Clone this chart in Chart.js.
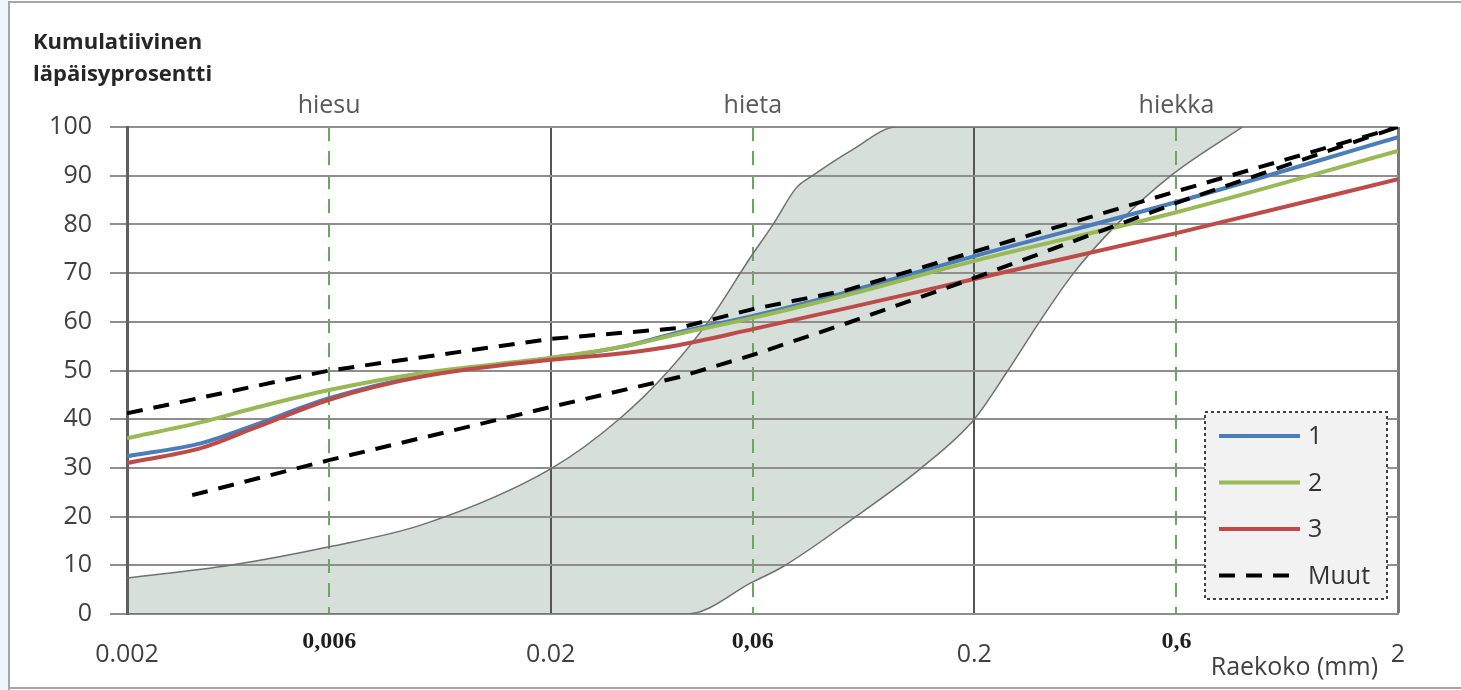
<!DOCTYPE html>
<html lang="fi">
<head>
<meta charset="utf-8">
<title>Kumulatiivinen läpäisyprosentti</title>
<script src="https://cdn.jsdelivr.net/npm/chart.js@4.4.0/dist/chart.umd.min.js"></script>
<style>
  html, body { margin: 0; padding: 0; background: #fff; }
  #wrap { position: relative; width: 1461px; height: 690px; }
</style>
</head>
<body>
<div id="wrap"><canvas id="chart" width="1461" height="690"></canvas></div>
<script>
"use strict";

// Raekoot (mm) ja näytteiden läpäisyprosentit
const sizes = [0.002, 0.003, 0.004, 0.006, 0.01, 0.02, 0.03, 0.04, 0.06, 0.1, 0.2, 0.6, 2];
const sample1 = [32.4, 35.1, 38.8, 44.3, 49.0, 52.5, 55.0, 57.8, 61.2, 66.1, 73.5, 84.6, 97.9];
const sample2 = [36.1, 39.4, 42.3, 46.0, 49.5, 52.6, 55.0, 57.5, 60.8, 65.5, 72.5, 82.5, 95.1];
const sample3 = [31.0, 34.1, 38.2, 44.0, 48.8, 52.2, 53.6, 55.2, 58.5, 62.8, 68.8, 78.2, 89.3];

// Muut (kaksi katkoviivaa)
const muutUpperSizes = [0.002, 0.006, 0.02, 0.04, 0.06, 0.1, 0.2, 0.6, 2];
const muutUpper = [41.2, 50.0, 56.5, 58.7, 62.6, 66.5, 74.4, 86.8, 100];
const muutLowerSizes = [0.00285, 0.006, 0.02, 0.04, 0.06, 0.1, 0.2, 0.6, 2];
const muutLower = [24.4, 31.6, 42.5, 48.6, 53.2, 59.7, 69.0, 84.4, 100];

// Ohjealue (harmaa kaista)
const bandLeftSizes = [0.002, 0.0035, 0.006, 0.01, 0.02, 0.029, 0.038, 0.048, 0.059, 0.067, 0.076, 0.083, 0.103, 0.131];
const bandLeft = [7.4, 10, 13.8, 18.4, 29.8, 40, 50, 61, 73, 80, 87.5, 90, 95.3, 100];
const bandRightSizes = [0.042, 0.06, 0.0706, 0.105, 0.15, 0.2, 0.24, 0.285, 0.343, 0.434, 0.582, 0.859];
const bandRight = [0, 6.6, 9.7, 20, 30, 40, 50, 60, 70, 80, 90, 100];

// Akselit
const majorTicks = [0.002, 0.02, 0.2, 2];
const majorLabels = ["0.002", "0.02", "0.2", "2"];
const minorTicks = [0.006, 0.06, 0.6];
const minorLabels = ["0,006", "0,06", "0,6"];
const fractionNames = ["hiesu", "hieta", "hiekka"];

const pts = (xs, ys) => xs.map((x, i) => ({ x: x, y: ys[i] }));
const isMinor = (v) => minorTicks.indexOf(v) >= 0;
const tickValue = (c) => (c && c.tick ? c.tick.value : null);

const bandTop = pts(bandLeftSizes, bandLeft).concat(pts(bandRightSizes, bandRight).slice(-1));
const bandBottom = [{ x: bandLeftSizes[0], y: 0 }].concat(pts(bandRightSizes, bandRight));

const SANS = "'Open Sans', 'DejaVu Sans', sans-serif";

// Legend inside the plot (bottom right)
const boxLegend = {
  id: "boxLegend",
  afterDatasetsDraw(chart) {
    const ctx = chart.ctx;
    const items = chart.data.datasets.filter((d) => d.inLegend);
    const x = 1205, y = 412, w = 182, h = 187;
    ctx.save();
    ctx.fillStyle = "#f2f2f2";
    ctx.fillRect(x, y, w, h);
    ctx.setLineDash([3, 3]);
    ctx.strokeStyle = "#404040";
    ctx.lineWidth = 2;
    ctx.strokeRect(x, y, w, h);
    items.forEach((d, i) => {
      const cy = y + 24 + i * 46.5;
      ctx.setLineDash(d.borderDash || []);
      ctx.strokeStyle = d.borderColor;
      ctx.lineWidth = d.borderWidth;
      ctx.beginPath();
      ctx.moveTo(x + 14, cy);
      ctx.lineTo(x + 95, cy);
      ctx.stroke();
      ctx.setLineDash([]);
      ctx.fillStyle = "#333";
      ctx.font = "25px " + SANS;
      ctx.textBaseline = "middle";
      ctx.textAlign = "left";
      ctx.fillText(d.label, x + 103, cy + 1);
    });
    ctx.restore();
  }
};

// Titles and frame
const decor = {
  id: "decor",
  afterDraw(chart) {
    const ctx = chart.ctx;
    ctx.save();
    ctx.fillStyle = "#eef4fb";
    ctx.fillRect(0, 0, 8, 690);
    ctx.strokeStyle = "#a6a6a6";
    ctx.lineWidth = 2;
    ctx.beginPath();
    ctx.moveTo(9, 690);
    ctx.lineTo(9, 2);
    ctx.lineTo(1461, 2);
    ctx.moveTo(9, 688);
    ctx.lineTo(1461, 688);
    ctx.stroke();

    ctx.fillStyle = "#262626";
    ctx.font = "bold 22px " + SANS;
    ctx.textAlign = "left";
    ctx.textBaseline = "middle";
    ctx.fillText("Kumulatiivinen", 33, 43);
    ctx.fillText("läpäisyprosentti", 33, 75);

    ctx.fillStyle = "#404040";
    ctx.font = "25px " + SANS;
    ctx.textAlign = "right";
    ctx.fillText("Raekoko (mm)", 1378, 668);
    ctx.restore();
  }
};

const lineBase = { pointRadius: 0, borderWidth: 4, fill: false, cubicInterpolationMode: "monotone" };

new Chart(document.getElementById("chart"), {
  type: "line",
  data: {
    datasets: [
      Object.assign({}, lineBase, { label: "1", data: pts(sizes, sample1), borderColor: "#4a7ebb", order: 4, inLegend: true }),
      Object.assign({}, lineBase, { label: "2", data: pts(sizes, sample2), borderColor: "#98b954", order: 3, inLegend: true }),
      Object.assign({}, lineBase, { label: "3", data: pts(sizes, sample3), borderColor: "#be4b48", order: 2, inLegend: true }),
      Object.assign({}, lineBase, { label: "Muut", data: pts(muutUpperSizes, muutUpper), borderColor: "#000", borderDash: [16, 11], cubicInterpolationMode: "default", tension: 0, order: 1, inLegend: true }),
      Object.assign({}, lineBase, { label: "Muut", data: pts(muutLowerSizes, muutLower), borderColor: "#000", borderDash: [16, 11], cubicInterpolationMode: "default", tension: 0, order: 1 }),
      Object.assign({}, lineBase, { label: "alue", data: bandTop, fill: "+1", backgroundColor: "#d6dfd9", borderColor: "#707070", borderWidth: 1.5, order: 9 }),
      Object.assign({}, lineBase, { label: "alue2", data: bandBottom, borderColor: "#707070", borderWidth: 1.5, order: 9 })
    ]
  },
  options: {
    responsive: false,
    animation: false,
    layout: { padding: { left: 0, right: 63, top: 0, bottom: 0 } },
    plugins: {
      legend: { display: false },
      tooltip: { enabled: false },
      filler: { drawTime: "beforeDraw" }
    },
    scales: {
      x: {
        type: "logarithmic",
        position: "bottom",
        weight: 0,
        min: 0.002,
        max: 2,
        afterBuildTicks: (s) => {
          s.ticks = majorTicks.concat(minorTicks).sort((a, b) => a - b).map((v) => ({ value: v }));
        },
        afterFit: (s) => { s.height = 76; },
        ticks: {
          autoSkip: false,
          maxRotation: 0,
          padding: 20,
          callback: (v) => (isMinor(v) ? minorLabels[minorTicks.indexOf(v)] : majorLabels[majorTicks.indexOf(v)]),
          font: (c) => (isMinor(tickValue(c))
            ? { family: "'Liberation Serif', serif", size: 24, weight: "bold", lineHeight: "16px" }
            : { family: SANS, size: 25, lineHeight: "42px" }),
          color: (c) => (isMinor(tickValue(c)) ? "#1e1e1e" : "#404040")
        },
        grid: {
          drawTicks: false,
          color: (c) => {
            const v = tickValue(c);
            if (isMinor(v)) return "#6aa85f";
            if (v === 2) return "#7a7a7a";
            return "#555";
          },
          lineWidth: (c) => (tickValue(c) === 2 ? 3 : 2)
        },
        border: {
          color: "#8e8e8e",
          width: 2,
          dash: (c) => (isMinor(tickValue(c)) ? [14, 10] : [])
        }
      },
      x2: {
        type: "logarithmic",
        position: "top",
        min: 0.002,
        max: 2,
        afterBuildTicks: (s) => {
          s.ticks = minorTicks.map((v) => ({ value: v }));
        },
        afterFit: (s) => { s.height = 127; },
        ticks: {
          autoSkip: false,
          maxRotation: 0,
          padding: 6,
          callback: (v) => fractionNames[minorTicks.indexOf(v)],
          font: { family: SANS, size: 25 },
          color: "#595959"
        },
        grid: { display: false, drawTicks: false },
        border: { display: false }
      },
      y: {
        min: 0,
        max: 100,
        afterFit: (s) => { s.width = 127; },
        ticks: {
          stepSize: 10,
          padding: 18,
          font: { family: SANS, size: 25 },
          color: "#404040"
        },
        grid: { color: "#8e8e8e", lineWidth: 2, tickLength: 17, tickColor: "#8e8e8e" },
        border: { color: "#5f5f5f", width: 3 }
      }
    }
  },
  plugins: [boxLegend, decor]
});
</script>
</body>
</html>
